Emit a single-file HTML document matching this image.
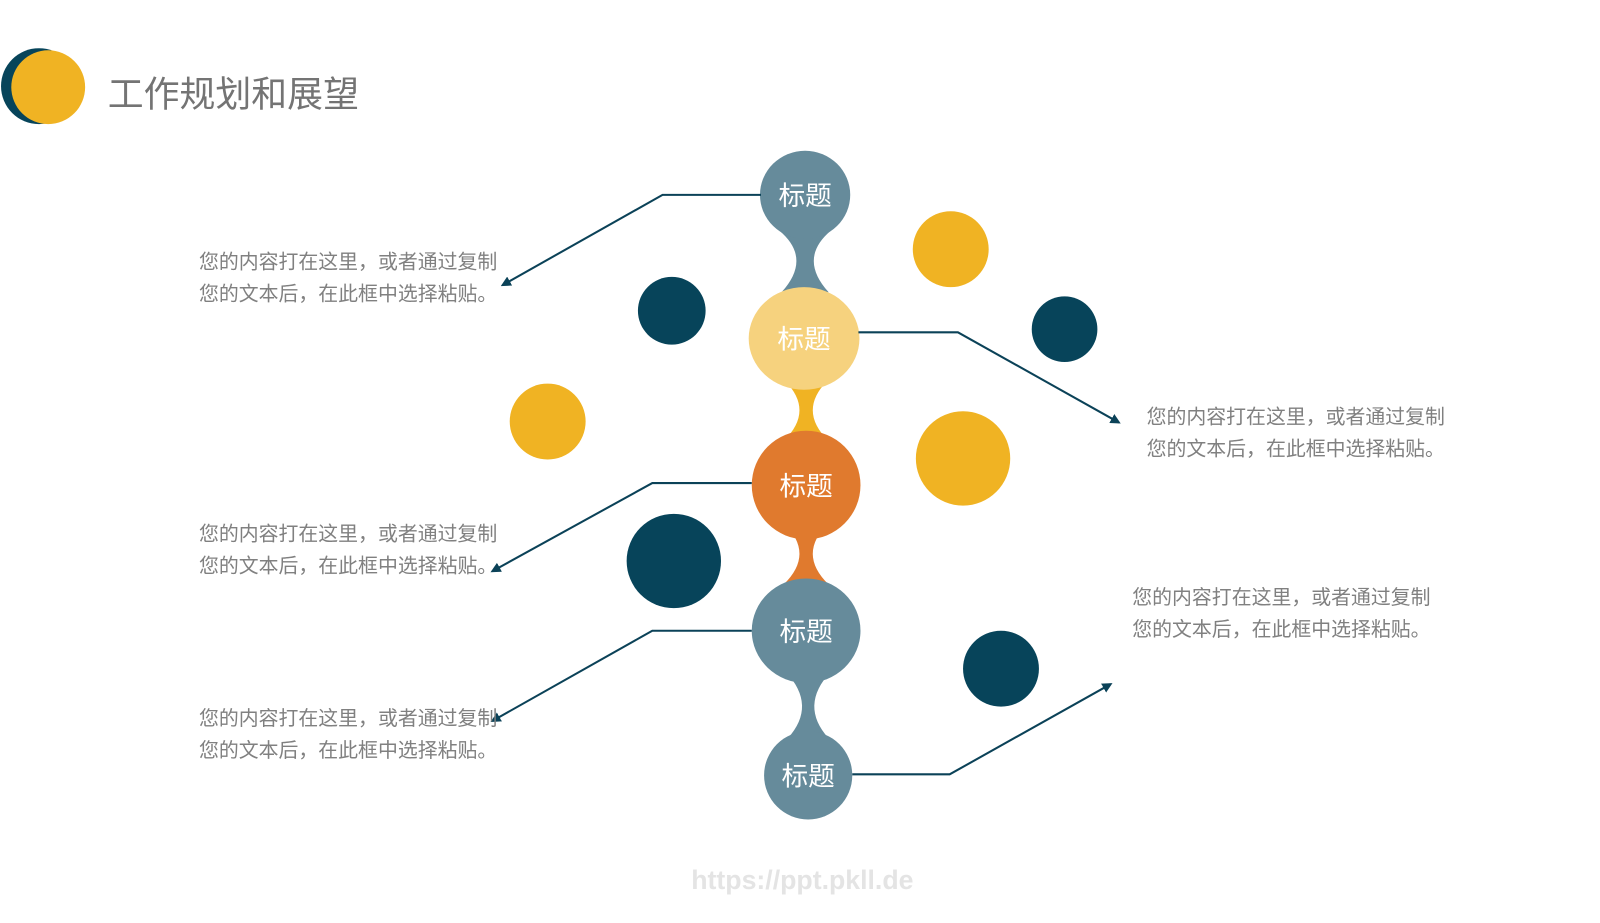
<!DOCTYPE html>
<html><head><meta charset="utf-8"><style>
html,body{margin:0;padding:0;background:#fff;}
body{width:1600px;height:900px;overflow:hidden;position:relative;font-family:"Liberation Sans","Noto Sans CJK SC",sans-serif;}
#w{position:absolute;left:0;top:0;width:1560px;height:878px;transform:scale(1.0256);transform-origin:0 0;}
.t{position:absolute;font-size:19.4px;line-height:31px;color:#808080;white-space:nowrap;}
</style></head><body><div id="w">
<svg width="1600" height="900" style="position:absolute;left:0;top:0">
<defs><marker id="a" markerWidth="10" markerHeight="10" refX="8" refY="5" orient="auto" markerUnits="userSpaceOnUse"><path d="M0,0 L10,5 L0,10 z" fill="#0b4258"/></marker></defs>
<circle cx="38" cy="84" r="37" fill="#07445a"/>
<circle cx="47" cy="85" r="36" fill="#f0b323"/>
<path d="M760,225 Q792,252 762,285 L808,285 Q778,252 810,225 Z" fill="#668b9b"/>
<path d="M764,370 Q795,400 764,430 L808,430 Q777,400 808,370 Z" fill="#f0b323"/>
<path d="M764,510 Q795,540 764,570 L808,570 Q777,540 808,510 Z" fill="#e07a2e"/>
<path d="M766,655 Q797,688 768,720 L808,720 Q779,688 810,655 Z" fill="#668b9b"/>
<ellipse cx="785" cy="190" rx="44" ry="43" fill="#668b9b"/>
<ellipse cx="784" cy="330" rx="54" ry="50" fill="#f6d27e"/>
<ellipse cx="786" cy="473" rx="53" ry="53" fill="#e07a2e"/>
<ellipse cx="786" cy="615" rx="53" ry="51" fill="#668b9b"/>
<ellipse cx="788" cy="756" rx="43" ry="43" fill="#668b9b"/>
<g font-size="26" fill="#fff" text-anchor="middle" font-family="Liberation Sans,Noto Sans CJK SC,sans-serif">
<text x="785" y="200">标题</text><text x="784" y="340">标题</text><text x="786" y="483">标题</text><text x="786" y="625">标题</text><text x="788" y="766">标题</text>
</g>
<circle cx="655" cy="303" r="33" fill="#07445a"/>
<circle cx="927" cy="243" r="37" fill="#f0b323"/>
<circle cx="1038" cy="321" r="32" fill="#07445a"/>
<circle cx="534" cy="411" r="37" fill="#f0b323"/>
<circle cx="939" cy="447" r="46" fill="#f0b323"/>
<circle cx="657" cy="547" r="46" fill="#07445a"/>
<circle cx="976" cy="652" r="37" fill="#07445a"/>
<g fill="none" stroke="#0b4258" stroke-width="2">
<polyline points="742,190 646,190 490,278" marker-end="url(#a)"/>
<polyline points="837,324 934,324 1091,412" marker-end="url(#a)"/>
<polyline points="733,471 636,471 480,557" marker-end="url(#a)"/>
<polyline points="733,615 636,615 480,703" marker-end="url(#a)"/>
<polyline points="831,755 926,755 1083,667" marker-end="url(#a)"/>
</g>
</svg>
<div style="position:absolute;left:105px;top:64px;font-size:35px;color:#747474;">工作规划和展望</div>
<div class="t" style="left:194px;top:241px">您的内容打在这里，或者通过复制<br>您的文本后，在此框中选择粘贴。</div>
<div class="t" style="left:1118px;top:392px">您的内容打在这里，或者通过复制<br>您的文本后，在此框中选择粘贴。</div>
<div class="t" style="left:194px;top:506px">您的内容打在这里，或者通过复制<br>您的文本后，在此框中选择粘贴。</div>
<div class="t" style="left:1104px;top:568px">您的内容打在这里，或者通过复制<br>您的文本后，在此框中选择粘贴。</div>
<div class="t" style="left:194px;top:686px">您的内容打在这里，或者通过复制<br>您的文本后，在此框中选择粘贴。</div>
<div style="position:absolute;left:674px;top:843px;font-size:26px;color:#e4e4e4;font-weight:bold;">https://ppt.pkll.de</div>
</div></body></html>
